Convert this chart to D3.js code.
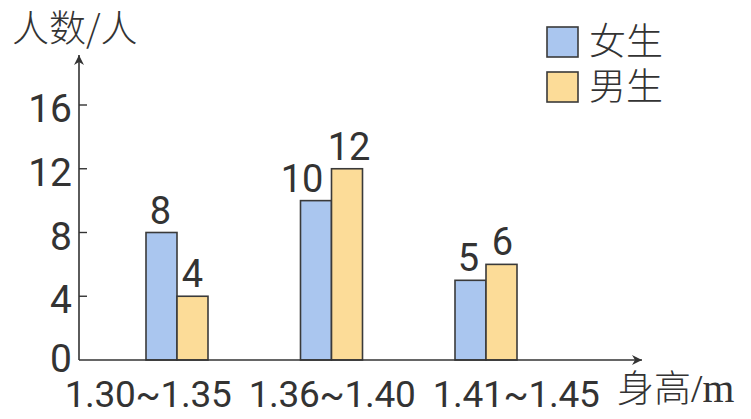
<!DOCTYPE html>
<html><head><meta charset="utf-8">
<script src="https://cdn.jsdelivr.net/npm/d3@7"></script>
<style>
body{margin:0;background:#fff;}
svg{display:block;}
.num{font-family:Roboto,"Open Sans",sans-serif;font-weight:400;fill:#333;}
.cjk{font-family:"Noto Sans CJK SC",sans-serif;font-weight:300;fill:#333;}
</style></head>
<body>
<script>
const categories = ["1.30~1.35", "1.36~1.40", "1.41~1.45"];
const seriesNames = ["女生", "男生"];
const girls = [8, 10, 5];
const boys = [4, 12, 6];
const yTicks = [0, 4, 8, 12, 16];
const colors = ["#aac6ef", "#fcdc98"];

const W = 751, H = 419;
const svg = d3.select("body").append("svg").attr("width", W).attr("height", H);

const x0 = 79, y0 = 360;
const y = d3.scaleLinear().domain([0, 16]).range([y0, 105]);
const xGroup = d3.scalePoint().domain(categories).range([177, 486]);
const xLabel = d3.scalePoint().domain(categories).range([148, 516]);
const xSub = d3.scaleBand().domain(seriesNames).range([-31, 31]).padding(0);

const data = categories.map((c, i) => ({cat: c, vals: [girls[i], boys[i]]}));

// bars
const g = svg.append("g");
data.forEach(d => {
  d.vals.forEach((v, j) => {
    const s = seriesNames[j];
    g.append("rect")
      .attr("x", xGroup(d.cat) + xSub(s))
      .attr("y", y(v))
      .attr("width", xSub.bandwidth())
      .attr("height", y(0) - y(v))
      .attr("fill", colors[j])
      .attr("stroke", "#3a3a3a")
      .attr("stroke-width", 1.6);
  });
});

// value labels
const labelShift = [[-1, 0], [-14, 2], [-2, 1]];
data.forEach((d, i) => {
  d.vals.forEach((v, j) => {
    const s = seriesNames[j];
    g.append("text").attr("class", "num")
      .attr("x", xGroup(d.cat) + xSub(s) + xSub.bandwidth() / 2 + labelShift[i][j])
      .attr("y", y(v) - 9)
      .attr("text-anchor", "middle")
      .attr("font-size", 38)
      .text(v);
  });
});

// axes
const axisColor = "#333";
svg.append("defs").append("marker")
  .attr("id", "arr").attr("viewBox", "0 0 10 10").attr("refX", 10).attr("refY", 5)
  .attr("markerWidth", 14).attr("markerHeight", 10).attr("markerUnits", "userSpaceOnUse")
  .attr("orient", "auto")
  .append("path").attr("d", "M0,0 L10,5 L0,10 L3,5 Z").attr("fill", axisColor);

svg.append("line").attr("x1", x0).attr("y1", y0).attr("x2", 642).attr("y2", y0)
  .attr("stroke", axisColor).attr("stroke-width", 1.6).attr("marker-end", "url(#arr)");
svg.append("line").attr("x1", x0).attr("y1", y0).attr("x2", x0).attr("y2", 55)
  .attr("stroke", axisColor).attr("stroke-width", 1.6).attr("marker-end", "url(#arr)");

// y ticks
yTicks.forEach(t => {
  if (t > 0) {
    svg.append("line").attr("x1", x0).attr("x2", x0 + 8).attr("y1", y(t)).attr("y2", y(t))
      .attr("stroke", axisColor).attr("stroke-width", 1.4);
  }
  svg.append("text").attr("class", "num")
    .attr("x", 72).attr("y", y(t) + (t === 0 ? 12 : 17))
    .attr("text-anchor", "end").attr("font-size", 39)
    .text(t);
});

// x labels
categories.forEach(c => {
  svg.append("text").attr("class", "num")
    .attr("x", xLabel(c)).attr("y", 407)
    .attr("text-anchor", "middle").attr("font-size", 37)
    .attr("letter-spacing", -0.3)
    .text(c);
});

// axis titles
svg.append("text").attr("class", "cjk").attr("x", 12).attr("y", 42)
  .attr("font-size", 37).text("人数/人");
const xt = svg.append("text").attr("class", "cjk").attr("x", 617).attr("y", 402)
  .attr("font-size", 37);
xt.append("tspan").text("身高");
xt.append("tspan").attr("font-family", "'Liberation Serif',serif").attr("font-size", 41).text("/m");

// legend
const legendText = svg.append("text").attr("class", "cjk").attr("font-size", 37);
seriesNames.forEach((s, j) => {
  const ly = 27 + j * 45;
  svg.append("rect").attr("x", 547).attr("y", ly).attr("width", 31).attr("height", 30)
    .attr("fill", colors[j]).attr("stroke", "#3a3a3a").attr("stroke-width", 1.6);
  legendText.append("tspan").attr("x", 589).attr("y", ly + 28).text(s);
});
</script>
</body></html>
